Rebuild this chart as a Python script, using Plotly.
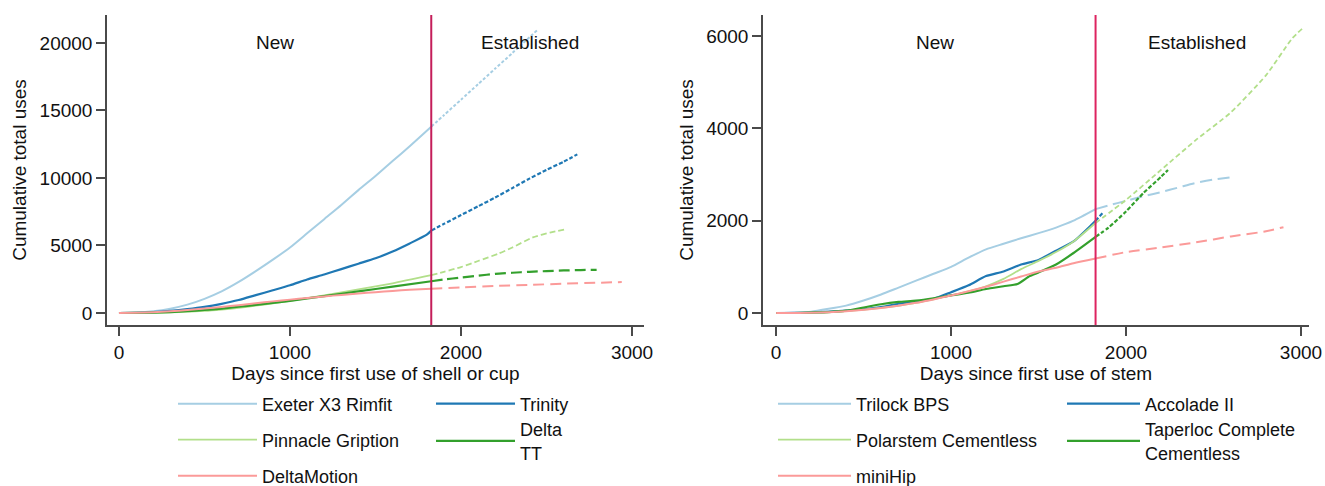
import plotly.graph_objects as go

CUTOFF = 1826

# ---------------- Left panel: shells / cups ----------------
cup_names = ["Exeter X3 Rimfit", "Trinity", "Pinnacle Gription", "Delta<br>TT", "DeltaMotion"]
cup_colors = ["#a6cee3", "#1f78b4", "#b2df8a", "#33a02c", "#fb9a99"]

exeter_days = [0, 100, 200, 300, 400, 500, 600, 700, 800, 900, 1000, 1100, 1200, 1300, 1400, 1500, 1600, 1700, 1800, 1826,
               1900, 2000, 2100, 2200, 2300, 2450]
exeter_uses = [0, 30, 130, 320, 620, 1050, 1600, 2300, 3100, 3950, 4850, 5900, 6950, 8000, 9100, 10150, 11250, 12350, 13500, 13800,
               14650, 15800, 16950, 18100, 19250, 21000]

trinity_days = [0, 100, 200, 300, 400, 500, 600, 700, 800, 900, 1000, 1100, 1200, 1300, 1400, 1500, 1600, 1700, 1800, 1826,
                1900, 2000, 2100, 2200, 2300, 2400, 2500, 2600, 2680]
trinity_uses = [0, 10, 60, 150, 280, 450, 680, 960, 1320, 1680, 2050, 2480, 2850, 3250, 3650, 4050, 4550, 5150, 5800, 6100,
                6600, 7250, 7900, 8550, 9250, 9950, 10600, 11200, 11750]

pinnacle_days = [0, 100, 200, 300, 400, 500, 600, 700, 800, 900, 1000, 1200, 1400, 1600, 1826,
                 1900, 2000, 2100, 2220, 2300, 2420, 2520, 2610]
pinnacle_uses = [0, 5, 20, 50, 100, 150, 250, 380, 540, 710, 900, 1300, 1750, 2200, 2800,
                 3050, 3400, 3850, 4400, 4850, 5600, 5950, 6200]

deltatt_days = [0, 100, 200, 300, 400, 500, 600, 700, 800, 900, 1000, 1200, 1400, 1600, 1826,
                1900, 2000, 2100, 2200, 2300, 2400, 2500, 2600, 2700, 2793]
deltatt_uses = [0, 10, 30, 70, 130, 220, 330, 460, 600, 750, 900, 1250, 1600, 1950, 2350,
                2480, 2620, 2760, 2900, 2980, 3050, 3100, 3150, 3180, 3200]

deltamotion_days = [0, 100, 200, 300, 400, 500, 600, 700, 800, 900, 1000, 1100, 1200, 1300, 1400, 1500, 1600, 1700, 1826,
                    2000, 2200, 2400, 2600, 2800, 2940]
deltamotion_uses = [0, 20, 60, 130, 220, 330, 450, 580, 720, 860, 990, 1110, 1230, 1340, 1440, 1540, 1630, 1720, 1800,
                    1900, 2000, 2080, 2170, 2240, 2290]

cup_days = [exeter_days, trinity_days, pinnacle_days, deltatt_days, deltamotion_days]
cup_uses = [exeter_uses, trinity_uses, pinnacle_uses, deltatt_uses, deltamotion_uses]

cup_x_ticks = [0, 1000, 2000, 3000]
cup_x_labels = ["0", "1000", "2000", "3000"]
cup_y_ticks = [0, 5000, 10000, 15000, 20000]
cup_y_labels = ["0", "5000", "10000", "15000", "20000"]

# ---------------- Right panel: stems ----------------
stem_names = ["Trilock BPS", "Accolade II", "Polarstem Cementless", "Taperloc Complete<br>Cementless", "miniHip"]
stem_colors = ["#a6cee3", "#1f78b4", "#b2df8a", "#33a02c", "#fb9a99"]

trilock_days = [0, 100, 200, 300, 400, 500, 600, 700, 800, 900, 1000, 1100, 1200, 1300, 1400, 1500, 1600, 1700, 1826,
                1900, 2000, 2100, 2200, 2300, 2400, 2500, 2620]
trilock_uses = [0, 10, 30, 90, 160, 270, 400, 550, 700, 850, 1000, 1200, 1380, 1500, 1620, 1730, 1850, 2000, 2250,
                2330, 2430, 2530, 2620, 2720, 2820, 2890, 2950]

accolade_days = [0, 200, 400, 600, 700, 800, 900, 1000, 1100, 1200, 1300, 1400, 1500, 1600, 1700, 1800, 1826, 1870]
accolade_uses = [0, 10, 50, 130, 200, 240, 310, 450, 600, 800, 900, 1050, 1150, 1350, 1550, 1900, 2000, 2180]

polarstem_days = [0, 200, 400, 600, 800, 1000, 1100, 1200, 1300, 1400, 1500, 1600, 1700, 1826,
                  2000, 2200, 2400, 2600, 2800, 2950, 3010]
polarstem_uses = [0, 5, 40, 110, 220, 380, 470, 580, 740, 950, 1130, 1320, 1550, 1950,
                  2450, 3100, 3750, 4350, 5150, 5950, 6170]

taperloc_days = [0, 100, 200, 300, 400, 500, 600, 700, 800, 900, 1000, 1100, 1200, 1300, 1380, 1450, 1500, 1600, 1700, 1826,
                 1900, 2000, 2100, 2200, 2240]
taperloc_uses = [0, 0, 10, 20, 50, 120, 190, 240, 270, 320, 380, 440, 520, 580, 630, 800, 880, 1050, 1300, 1650,
                 1850, 2200, 2600, 2950, 3100]

minihip_days = [0, 200, 400, 600, 800, 1000, 1100, 1200, 1300, 1400, 1500, 1600, 1700, 1826,
                2000, 2200, 2400, 2600, 2800, 2900]
minihip_uses = [0, 5, 40, 110, 220, 380, 470, 570, 680, 790, 900, 980, 1080, 1180,
                1320, 1420, 1530, 1660, 1770, 1860]

stem_days = [trilock_days, accolade_days, polarstem_days, taperloc_days, minihip_days]
stem_uses = [trilock_uses, accolade_uses, polarstem_uses, taperloc_uses, minihip_uses]

stem_x_ticks = [0, 1000, 2000, 3000]
stem_x_labels = ["0", "1000", "2000", "3000"]
stem_y_ticks = [0, 2000, 4000, 6000]
stem_y_labels = ["0", "2000", "4000", "6000"]

cup_dash = ["3px,2px", "4px,2px", "6px,3px", "11px,5px", "11px,6px"]
stem_dash = ["12px,6px", "4px,2px", "5px,3px", "4px,2px", "11px,6px"]
widths = [2, 2.2, 1.8, 2.2, 2]

W, H = 1325, 486
FONT = "Liberation Sans, Arial, sans-serif"


def px_x(p):
    return p / W


def px_y(p):
    return 1 - p / H


# legend slot positions (pixels): line start x, row centre y
cup_leg_pos = [(178, 404), (436, 404), (178, 440), (436, 441), (178, 476)]
stem_leg_pos = [(778, 404), (1067, 404), (778, 440), (1067, 441), (778, 476)]

fig = go.Figure()
layout_legends = {}
leg_idx = 0


def add_series(days, uses, name, color, dash, width, xa, ya, pos, itemw):
    global leg_idx
    leg_idx += 1
    lname = "legend" if leg_idx == 1 else f"legend{leg_idx}"
    pre_x = [d for d in days if d <= CUTOFF]
    pre_y = [u for d, u in zip(days, uses) if d <= CUTOFF]
    post_x = [d for d in days if d >= CUTOFF]
    post_y = [u for d, u in zip(days, uses) if d >= CUTOFF]
    fig.add_trace(go.Scatter(x=pre_x, y=pre_y, mode="lines", name=name, xaxis=xa, yaxis=ya,
                             line=dict(color=color, width=width, shape="spline", smoothing=0.6),
                             legend=lname, showlegend=True))
    fig.add_trace(go.Scatter(x=post_x, y=post_y, mode="lines", name=name, xaxis=xa, yaxis=ya,
                             line=dict(color=color, width=width, dash=dash, shape="spline", smoothing=0.6),
                             showlegend=False))
    lx, ly = pos
    layout_legends[lname] = dict(
        x=px_x(lx - 5), y=px_y(ly), xanchor="left", yanchor="middle",
        xref="paper", yref="paper",
        font=dict(family=FONT, size=18, color="#111111"),
        bgcolor="rgba(0,0,0,0)", itemwidth=itemw, tracegroupgap=0,
    )


for i in range(5):
    add_series(cup_days[i], cup_uses[i], cup_names[i], cup_colors[i], cup_dash[i], widths[i], "x", "y",
               cup_leg_pos[i], 79)
for i in range(5):
    add_series(stem_days[i], stem_uses[i], stem_names[i], stem_colors[i], stem_dash[i], widths[i], "x2", "y2",
               stem_leg_pos[i], 73)

axis_font = dict(family=FONT, size=19, color="#111111")
title_font = dict(family=FONT, size=19, color="#111111")
axis_common = dict(showgrid=False, zeroline=False, showline=True, linecolor="#4a4a4a", linewidth=1.5,
                   ticks="outside", ticklen=9, tickwidth=1.5, tickcolor="#4a4a4a", tickfont=axis_font)

fig.update_layout(
    width=W, height=H, margin=dict(l=0, r=0, t=0, b=0, autoexpand=False),
    paper_bgcolor="white", plot_bgcolor="white", showlegend=True, hovermode=False,
    xaxis=dict(domain=[px_x(107), px_x(644)], range=[-70, 3070], tickvals=cup_x_ticks, ticktext=cup_x_labels,
               title=dict(text="Days since first use of shell or cup", font=title_font, standoff=2),
               anchor="y", **axis_common),
    yaxis=dict(domain=[px_y(325), px_y(15)], range=[-890, 22070], tickvals=cup_y_ticks, ticktext=cup_y_labels,
               title=dict(text="Cumulative total uses", font=title_font, standoff=8),
               anchor="x", **axis_common),
    xaxis2=dict(domain=[px_x(763), px_x(1309)], range=[-75, 3046], tickvals=stem_x_ticks, ticktext=stem_x_labels,
                title=dict(text="Days since first use of stem", font=title_font, standoff=2),
                anchor="y2", **axis_common),
    yaxis2=dict(domain=[px_y(325), px_y(15)], range=[-260, 6457], tickvals=stem_y_ticks, ticktext=stem_y_labels,
                title=dict(text="Cumulative total uses", font=title_font, standoff=8),
                anchor="x2", **axis_common),
    **layout_legends,
)

for xr, yr, vc in (("x", "y", "#c41e5a"), ("x2", "y2", "#dd2460")):
    fig.add_shape(type="line", xref=xr, yref=f"{yr} domain", x0=CUTOFF, x1=CUTOFF, y0=0, y1=1,
                  line=dict(color=vc, width=2))
    fig.add_annotation(xref=xr, yref="paper", x=910, y=px_y(43), yanchor="middle", text="New",
                       showarrow=False, font=title_font)
    fig.add_annotation(xref=xr, yref="paper", x=2405, y=px_y(43), yanchor="middle", text="Established",
                       showarrow=False, font=title_font)

fig.write_html(
    "out.html",
    config={"displayModeBar": False},
    post_script="document.body.style.margin='0';document.body.style.overflow='hidden';",
)
